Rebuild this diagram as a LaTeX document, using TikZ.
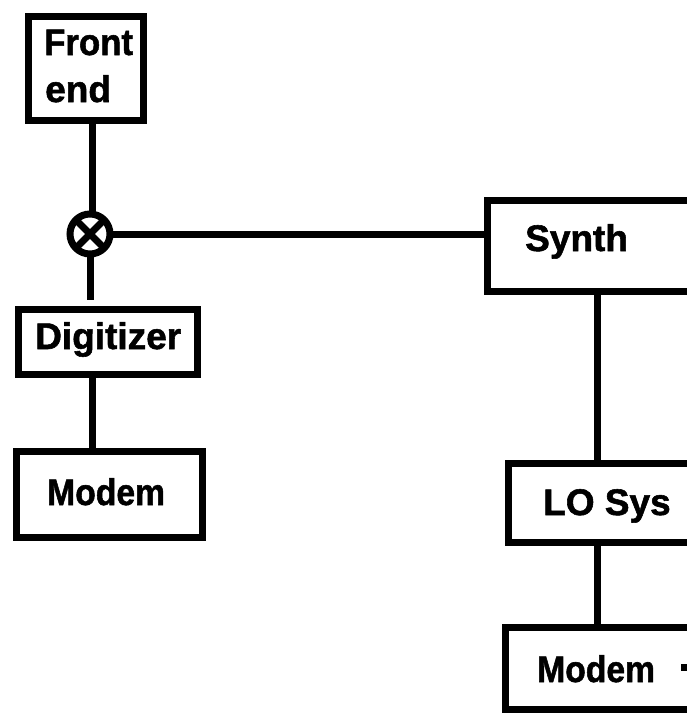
\documentclass[tikz,border=0pt]{standalone}
\usepackage{fontspec}
\setmainfont[BoldFeatures={FakeBold=1.5}]{Liberation Sans}
\tikzset{
  box/.style={draw=black,line width=7pt,fill=white,rectangle,inner sep=0pt,outer sep=0pt,anchor=north west},
  wire/.style={draw=black,line width=7pt},
  lbl/.style={font=\fontsize{37}{40}\bfseries\selectfont,text=black,inner sep=0pt,anchor=base west},
  mixer/.style={draw=black,line width=7pt,fill=white,circle,outer sep=0pt,minimum size=40pt,inner sep=0pt,
    path picture={\draw[black,line width=7pt]
      (path picture bounding box.north west) -- (path picture bounding box.south east)
      (path picture bounding box.north east) -- (path picture bounding box.south west);}}
}
\begin{document}
\begin{tikzpicture}[x=1pt,y=-1pt]
\useasboundingbox (0,0) rectangle (687,715);
\clip (0,0) rectangle (687,715);
\node[box,minimum width=115pt,minimum height=104pt] (front) at (28.5,16.5) {};
\node[box,minimum width=179pt,minimum height=65pt] (dig) at (18.5,309.5) {};
\node[box,minimum width=186pt,minimum height=86pt] (modemA) at (16.5,451.5) {};
\node[box,minimum width=260pt,minimum height=91pt] (synth) at (487.5,200.5) {};
\node[box,minimum width=240pt,minimum height=79pt] (lo) at (508.5,463.5) {};
\node[box,minimum width=240pt,minimum height=82pt] (modemB) at (505.5,627.5) {};
\node[mixer] (mix) at (90,234) {};
\coordinate (digtop) at (90,300);
\coordinate (upper) at (92,0);
\draw[wire] (front.south -| upper) -- (upper |- mix.north);
\draw[wire] (mix.east) -- (synth.west |- mix);
\draw[wire] (mix.south) -- (digtop);
\draw[wire] (dig.south -| upper) -- (modemA.north -| upper);
\coordinate (trunk) at (597,0);
\draw[wire] (synth.south -| trunk) -- (lo.north -| trunk);
\draw[wire] (lo.south -| trunk) -- (modemB.north -| trunk);
\node[lbl] (t1) at (44,55) {\scalebox{.94}[1]{Front}};
\node[lbl] (t2) at (45,102) {end};
\node[lbl] (t3) at (525,251) {Synth};
\node[lbl] (t4) at (35,349) {Digitizer};
\node[lbl] (t5) at (47,505) {\scalebox{.91}[1]{Modem}};
\node[lbl] (t6) at (543,515) {LO Sys};
\node[lbl] (t7) at (537,682) {\scalebox{.91}[1]{Modem}};
\fill[black] (681,664) rectangle (687,671);
\end{tikzpicture}
\end{document}
